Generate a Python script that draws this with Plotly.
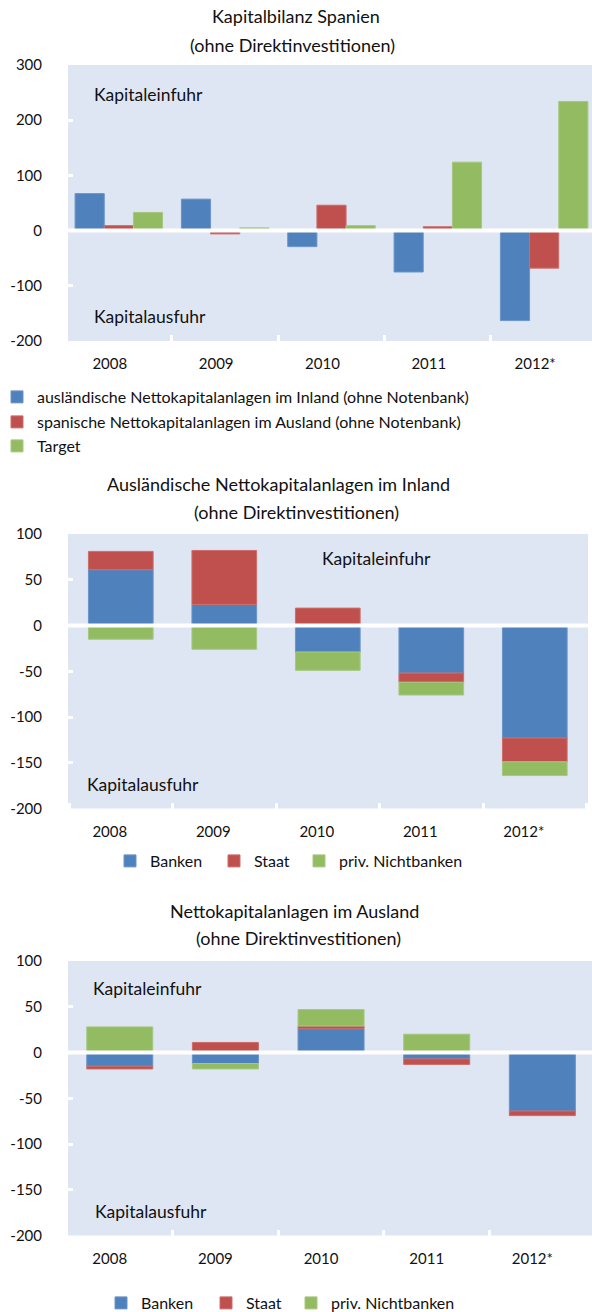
import plotly.graph_objects as go

# ---------------- data ----------------
years = ["2008", "2009", "2010", "2011", "2012*"]

# Chart 1: Kapitalbilanz Spanien
kb_auslaendisch = [67, 57, -29, -75, -163]
kb_spanisch = [9, -6, 46, 7, -68]
kb_target = [33, 5, 9, 124, 234]

# Chart 2: Ausländische Nettokapitalanlagen im Inland
in_banken = [61, 23, -29, -52, -123]
in_staat = [20, 59, 19, -10, -26]
in_priv = [-15, -26, -20, -14, -15]

# Chart 3: Nettokapitalanlagen im Ausland
aus_banken = [-15, -12, 26, -7, -64]
aus_staat = [-3, 11, 3, -6, -5]
aus_priv = [28, -6, 18, 20, 0]

y1_ticks = [-200, -100, 0, 100, 200, 300]
y1_labels = ["-200", "-100", "0", "100", "200", "300"]
y23_ticks = [-200, -150, -100, -50, 0, 50, 100]
y23_labels = ["-200", "-150", "-100", "-50", "0", "50", "100"]

names1 = ["ausländische Nettokapitalanlagen im Inland (ohne Notenbank)",
          "spanische Nettokapitalanlagen im Ausland (ohne Notenbank)",
          "Target"]
names23 = ["Banken", "Staat", "priv. Nichtbanken"]

# ---------------- styling ----------------
W, H = 592, 1312
FONT = "Lato"
TXT = "#111111"
BG = "#DFE6F3"
COLS = ["#4F81BD", "#C0504D", "#93BC62"]
EDGE = ["#6B95C9", "#CB6E6B", "#A6C880"]


def px_x(v):
    return v / W


def px_y(v):
    return 1 - v / H


fig = go.Figure()

# Chart 1 traces (grouped)
for i, (vals, nm) in enumerate(zip([kb_auslaendisch, kb_spanisch, kb_target], names1)):
    fig.add_trace(go.Bar(
        x=years, y=vals, name=nm, xaxis="x", yaxis="y",
        offsetgroup=f"g{i}", showlegend=True,
        marker=dict(color=COLS[i], line=dict(color=EDGE[i], width=1)),
        legend=["legend", "legend2", "legend3"][i],
    ))

# Chart 2 traces (stacked)
for i, vals in enumerate([in_banken, in_staat, in_priv]):
    fig.add_trace(go.Bar(
        x=years, y=vals, name=names23[i], xaxis="x2", yaxis="y2",
        width=0.625, showlegend=True,
        marker=dict(color=COLS[i], line=dict(color=EDGE[i], width=1)),
        legend=["legend4", "legend5", "legend6"][i],
    ))

# Chart 3 traces (stacked)
for i, vals in enumerate([aus_banken, aus_staat, aus_priv]):
    fig.add_trace(go.Bar(
        x=years, y=vals, name=names23[i], xaxis="x3", yaxis="y3",
        width=0.625, showlegend=True,
        marker=dict(color=COLS[i], line=dict(color=EDGE[i], width=1)),
        legend=["legend7", "legend8", "legend9"][i],
    ))

tickfont = dict(family=FONT, size=15, color=TXT)


def xaxis(domain, rng, anchor, shift):
    return dict(domain=domain, anchor=anchor, type="category", range=rng,
                showgrid=False, zeroline=False, showline=False,
                ticks="inside", tickson="boundaries", tickcolor="white",
                ticklen=6, tickwidth=3, tickfont=tickfont,
                ticklabelshift=shift, ticklabelstandoff=12, fixedrange=True)


def yaxis(domain, rng, anchor, tv, tt):
    return dict(domain=domain, anchor=anchor, range=rng,
                tickvals=tv, ticktext=tt,
                showgrid=False, zeroline=False, showline=False,
                ticks="inside", tickcolor="white", ticklen=5, tickwidth=3,
                tickfont=tickfont, ticklabelstandoff=25, fixedrange=True)


fig.update_layout(
    width=W, height=H,
    margin=dict(l=0, r=0, t=0, b=0, autoexpand=False),
    paper_bgcolor="white", plot_bgcolor=BG,
    showlegend=True,
    barmode="relative", bargap=0.177, bargroupgap=0,
    font=dict(family=FONT, size=15, color=TXT),
    xaxis=xaxis([px_x(68), 1], [-0.478, 4.45], "y", -9),
    yaxis=yaxis([px_y(341), px_y(65)], [-200, 300], "x", y1_ticks, y1_labels),
    xaxis2=xaxis([px_x(68), px_x(588)], [-0.51, 4.514], "y2", -11),
    yaxis2=yaxis([px_y(808.5), px_y(534)], [-200, 100], "x2", y23_ticks, y23_labels),
    xaxis3=xaxis([px_x(68), 1], [-0.49, 4.47], "y3", -10),
    yaxis3=yaxis([px_y(1235.5), px_y(961)], [-200, 100], "x3", y23_ticks, y23_labels),
)

# legends
legfont = dict(family=FONT, size=16, color=TXT)
leg_pos = {
    "legend": (-3, 397), "legend2": (-3, 422), "legend3": (-3, 446),
    "legend4": (110, 861), "legend5": (214, 861), "legend6": (299, 861),
    "legend7": (101, 1303), "legend8": (206, 1303), "legend9": (291, 1303),
}
for key, (lx, ly) in leg_pos.items():
    fig.update_layout(**{key: dict(x=px_x(lx), y=px_y(ly), xanchor="left", yanchor="middle",
                                   bgcolor="rgba(0,0,0,0)", borderwidth=0, font=legfont,
                                   orientation="v", visible=True)})

# zero lines (white, above bars)
for xr, yr in [("x", "y"), ("x2", "y2"), ("x3", "y3")]:
    fig.add_shape(type="line", xref=f"{xr} domain", yref=yr, x0=0, x1=1, y0=0, y1=0,
                  line=dict(color="white", width=4), layer="above")

# titles and inner labels
title_font = dict(family=FONT, size=18, color=TXT)
inner_font = dict(family=FONT, size=17.5, color=TXT)
texts = [
    ("Kapitalbilanz Spanien", 296, 16, "center", title_font),
    ("(ohne Direktinvestitionen)", 292, 45, "center", title_font),
    ("Ausländische Nettokapitalanlagen im Inland", 278, 484, "center", title_font),
    ("(ohne Direktinvestitionen)", 296, 512, "center", title_font),
    ("Nettokapitalanlagen im Ausland", 294, 911, "center", title_font),
    ("(ohne Direktinvestitionen)", 298, 938, "center", title_font),
    ("Kapitaleinfuhr", 92, 94, "left", inner_font),
    ("Kapitalausfuhr", 92, 316, "left", inner_font),
    ("Kapitaleinfuhr", 320, 558, "left", inner_font),
    ("Kapitalausfuhr", 85, 784, "left", inner_font),
    ("Kapitaleinfuhr", 91, 988, "left", inner_font),
    ("Kapitalausfuhr", 93, 1211, "left", inner_font),
]
for t, x, y, anc, f in texts:
    fig.add_annotation(text=t, x=px_x(x), y=px_y(y), xref="paper", yref="paper",
                       xanchor=anc, yanchor="middle", showarrow=False, font=f)

fig.write_html("out.html",
               config={"displayModeBar": False},
               post_script="document.body.style.margin='0';document.body.style.overflow='hidden';")
